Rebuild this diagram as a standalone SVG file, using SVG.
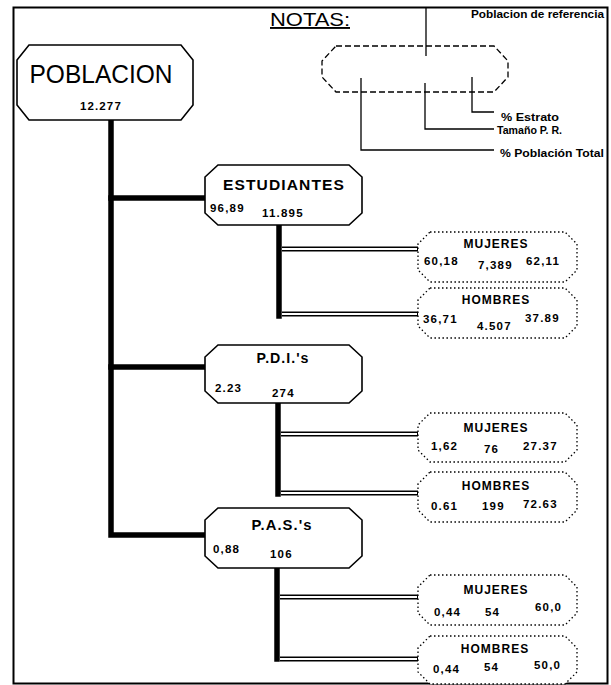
<svg xmlns="http://www.w3.org/2000/svg" width="611" height="685" viewBox="0 0 611 685">
<defs>
<style>
.frame{fill:none;stroke:#000;stroke-width:2}
.main{fill:#fff;stroke:#000;stroke-width:1.6}
.sub{fill:#fff;stroke:#000;stroke-width:1.3;stroke-dasharray:1.5,2.5}
.note{fill:none;stroke:#000;stroke-width:1.3;stroke-dasharray:6,3}
.thick{fill:none;stroke:#000;stroke-width:5.5;stroke-linecap:square}
.dblo{fill:none;stroke:#000;stroke-width:5}
.dbli{fill:none;stroke:#fff;stroke-width:2}
.lead{fill:none;stroke:#000;stroke-width:1.3}
text{font-family:"Liberation Sans",Arial,sans-serif;fill:#000}
.t{font-weight:bold;font-size:14px;text-anchor:middle;letter-spacing:1px}
.st{font-weight:bold;font-size:12px;text-anchor:middle;letter-spacing:1px}
.n{font-weight:bold;font-size:11.5px;letter-spacing:1.2px}
.nt{font-size:10.5px;font-weight:bold}
</style>
</defs>
<rect width="611" height="685" fill="#fff"/>
<rect id="frame" class="frame" x="13.5" y="7.5" width="594" height="676"/>

<g id="notes">
<text x="270" y="26" font-size="19" textLength="80" lengthAdjust="spacingAndGlyphs" text-decoration="underline">NOTAS:</text>
<path class="note" d="M336,46 H494 L508,61 V77 L494,92 H336 L322,77 V61 Z"/>
<path class="lead" d="M426,8 V56"/>
<path class="lead" d="M472,77 V112 H494"/>
<path class="lead" d="M425,83 V129 H494"/>
<path class="lead" d="M361,78 V150 H494"/>
<text class="nt" x="471" y="18" textLength="133" lengthAdjust="spacingAndGlyphs">Poblacion de referencia</text>
<text class="nt" x="501" y="121" textLength="58" lengthAdjust="spacingAndGlyphs">% Estrato</text>
<text class="nt" x="497" y="134" textLength="65" lengthAdjust="spacingAndGlyphs">Tamaño P. R.</text>
<text class="nt" x="500" y="157" textLength="104" lengthAdjust="spacingAndGlyphs">% Población Total</text>
</g>

<g id="connectors">
<path class="thick" d="M111,122 V535 H203"/>
<path class="thick" d="M111,198 H203"/>
<path class="thick" d="M111,367 H203"/>
<path class="thick" d="M279,227 V316"/>
<path class="thick" d="M278,405 V494"/>
<path class="thick" d="M277,570 V659"/>
<path class="dblo" d="M282,249 H418 M282,314 H418 M281,434 H418 M281,493 H418 M280,597 H418 M280,659 H418"/>
<path class="dbli" d="M282,249 H417 M282,314 H417 M281,434 H417 M281,493 H417 M280,597 H417 M280,659 H417"/>
</g>

<g id="poblacion">
<path class="main" d="M29,45 H181 L193,60 V105 L181,120 H29 L17,105 V60 Z"/>
<text x="101" y="83" font-size="25" text-anchor="middle" textLength="143" lengthAdjust="spacingAndGlyphs">POBLACION</text>
<text class="n" x="80" y="110" textLength="42">12.277</text>
</g>

<g id="estudiantes">
<path class="main" d="M218,165 H349 L362,177 V213 L349,225 H218 L205,213 V177 Z"/>
<text class="t" x="284" y="190" textLength="122" lengthAdjust="spacingAndGlyphs">ESTUDIANTES</text>
<text class="n" x="210" y="212">96,89</text>
<text class="n" x="262" y="217">11.895</text>
</g>

<g id="pdi">
<path class="main" d="M218,345 H349 L362,357 V391 L349,403 H218 L205,391 V357 Z"/>
<text class="t" x="283" y="363" textLength="53" lengthAdjust="spacingAndGlyphs">P.D.I.'s</text>
<text class="n" x="215" y="392">2.23</text>
<text class="n" x="272" y="397">274</text>
</g>

<g id="pas">
<path class="main" d="M218,508 H349 L362,520 V556 L349,568 H218 L205,556 V520 Z"/>
<text class="t" x="282" y="530" textLength="61" lengthAdjust="spacingAndGlyphs">P.A.S.'s</text>
<text class="n" x="213" y="553">0,88</text>
<text class="n" x="270" y="558">106</text>
</g>

<g id="est-mujeres">
<path class="sub" d="M430,232 H565 L577,244 V270 L565,282 H430 L418,270 V244 Z"/>
<text class="st" x="496" y="248">MUJERES</text>
<text class="n" x="424" y="265">60,18</text>
<text class="n" x="478" y="269">7,389</text>
<text class="n" x="526" y="265">62,11</text>
</g>

<g id="est-hombres">
<path class="sub" d="M430,288 H565 L577,300 V326 L565,338 H430 L418,326 V300 Z"/>
<text class="st" x="496" y="304">HOMBRES</text>
<text class="n" x="423" y="323">36,71</text>
<text class="n" x="477" y="330">4.507</text>
<text class="n" x="525" y="322">37.89</text>
</g>

<g id="pdi-mujeres">
<path class="sub" d="M430,413 H565 L577,425 V450 L565,462 H430 L418,450 V425 Z"/>
<text class="st" x="496" y="432">MUJERES</text>
<text class="n" x="431" y="450">1,62</text>
<text class="n" x="484" y="453">76</text>
<text class="n" x="523" y="450">27.37</text>
</g>

<g id="pdi-hombres">
<path class="sub" d="M430,472 H565 L577,484 V510 L565,522 H430 L418,510 V484 Z"/>
<text class="st" x="496" y="490">HOMBRES</text>
<text class="n" x="431" y="510">0.61</text>
<text class="n" x="482" y="510">199</text>
<text class="n" x="523" y="508">72.63</text>
</g>

<g id="pas-mujeres">
<path class="sub" d="M430,575 H565 L577,587 V613 L565,625 H430 L418,613 V587 Z"/>
<text class="st" x="496" y="594">MUJERES</text>
<text class="n" x="434" y="616">0,44</text>
<text class="n" x="485" y="616">54</text>
<text class="n" x="535" y="611">60,0</text>
</g>

<g id="pas-hombres">
<path class="sub" d="M430,636 H565 L577,648 V672 L565,684 H430 L418,672 V648 Z"/>
<text class="st" x="495" y="653">HOMBRES</text>
<text class="n" x="433" y="673">0,44</text>
<text class="n" x="484" y="671">54</text>
<text class="n" x="534" y="669">50,0</text>
</g>
</svg>
